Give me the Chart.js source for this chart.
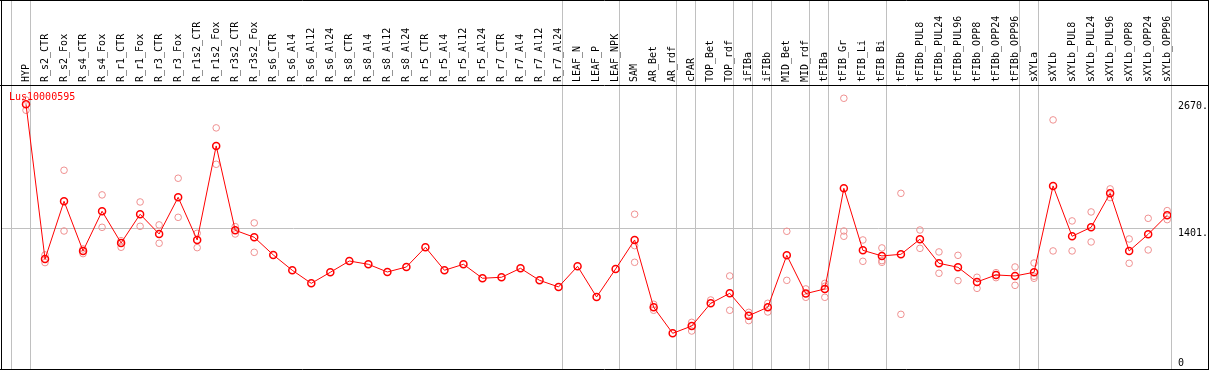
<!DOCTYPE html>
<html>
<head>
<meta charset="utf-8">
<script src="https://cdn.jsdelivr.net/npm/chart.js@4.4.0/dist/chart.umd.min.js"></script>
<style>
  body { margin: 0; background: #fff; }
</style>
</head>
<body>
<canvas id="exprChart" width="1209" height="370"></canvas>
<script>
const categories = ['HYP', 'R_s2_CTR', 'R_s2_Fox', 'R_s4_CTR', 'R_s4_Fox', 'R_r1_CTR', 'R_r1_Fox', 'R_r3_CTR', 'R_r3_Fox',
  'R_r1s2_CTR', 'R_r1s2_Fox', 'R_r3s2_CTR', 'R_r3s2_Fox', 'R_s6_CTR', 'R_s6_Al4', 'R_s6_Al12', 'R_s6_Al24',
  'R_s8_CTR', 'R_s8_Al4', 'R_s8_Al12', 'R_s8_Al24', 'R_r5_CTR', 'R_r5_Al4', 'R_r5_Al12', 'R_r5_Al24',
  'R_r7_CTR', 'R_r7_Al4', 'R_r7_Al12', 'R_r7_Al24', 'LEAF_N', 'LEAF_P', 'LEAF_NPK', 'SAM', 'AR_Bet', 'AR_rdf',
  'cPAR', 'TOP_Bet', 'TOP_rdf', 'iFIBa', 'iFIBb', 'MID_Bet', 'MID_rdf', 'tFIBa', 'tFIB_Gr', 'tFIB_Li', 'tFIB_Bi',
  'tFIBb', 'tFIBb_PUL8', 'tFIBb_PUL24', 'tFIBb_PUL96', 'tFIBb_OPP8', 'tFIBb_OPP24', 'tFIBb_OPP96',
  'sXYLa', 'sXYLb', 'sXYLb_PUL8', 'sXYLb_PUL24', 'sXYLb_PUL96', 'sXYLb_OPP8', 'sXYLb_OPP24', 'sXYLb_OPP96'];

// mean expression per sample
const means = [2645, 1093, 1672, 1174, 1572, 1254, 1542, 1344, 1712, 1284, 2227, 1381, 1311, 1134, 980, 849,
  960, 1073, 1040, 963, 1013, 1211, 980, 1040, 900, 910, 1000, 879, 813, 1020, 712, 993, 1284, 609, 348, 421,
  649, 749, 525, 609, 1130, 746, 793, 1802, 1180, 1124, 1140, 1291, 1050, 1010, 863, 933, 923, 960, 1826,
  1321, 1411, 1752, 1174, 1341, 1532];

// replicates (null = not shown)
const rep1 = [2688, 1134, 1983, 1194, 1736, 1277, 1665, 1435, 1903, 1351, 2408, 1418, 1455,
  null, null, null, null, null, null, null, null, null, null, null, null, null, null, null, null, null, null, null,
  1542, 639, null, 458, 682, 923, 558, 649, 1371, 793, 849, 2705, 1284, 1204, 1752, 1384, 1164, 1130,
  910, 956, 1013, 1053, 2488, 1475, 1565, 1796, 1294, 1501, 1578];
const rep2 = [2585, 1057, 1374, 1147, 1411, 1211, 1421, 1251, 1511, 1207, 2043, 1344, 1160,
  null, null, null, null, null, null, null, null, null, null, null, null, null, null, null, null, null, null, null,
  1060, 579, null, 371, null, 579, 475, 562, 879, 709, 709, 1374, 1070, 1060, 538, 1200, 950, 876,
  799, 906, 829, 900, 1174, 1174, 1264, 1709, 1050, 1184, 1488];
const rep3 = [null, null, null, null, null, null, null, null, null, null, null, null, null,
  null, null, null, null, null, null, null, null, null, null, null, null, null, null, null, null, null, null, null,
  1227, null, null, null, null, null, null, null, null, null, 820, 1321, null, 1077, null, null, null, null,
  null, null, null, 920, null, null, null, null, null, null, null];

const yTicks = [0, 1401, 2670];
// last sample index of each group, a grey line follows it
const groupEnds = [-1, 0, 28, 31, 34, 35, 37, 38, 39, 41, 42, 45, 52, 53, 60];
const geneName = 'Lus10000595';

function toPoints(arr) {
    let pts = [];
    for (let i = 0; i < arr.length; i++) {
        if (arr[i] !== null) pts.push({ x: i, y: arr[i] });
    }
    return pts;
}

function noPadding(axis) {
    axis.paddingLeft = 0;
    axis.paddingRight = 0;
    axis.paddingTop = 0;
    axis.paddingBottom = 0;
}

const monoFont = { family: 'DejaVu Sans Mono', size: 10 };

const framePlugin = {
    id: 'frame',
    beforeDatasetsDraw(chart) {
        const ctx = chart.ctx;
        const xs = chart.scales.x;
        ctx.save();
        ctx.strokeStyle = '#c0c0c0';
        ctx.lineWidth = 1;
        groupEnds.forEach(function (g) {
            let px = Math.round(xs.getPixelForValue(g + 0.19)) + 0.5;
            ctx.beginPath();
            ctx.moveTo(px, 0);
            ctx.lineTo(px, 369);
            ctx.stroke();
        });
        ctx.restore();
    },
    afterDraw(chart) {
        const ctx = chart.ctx;
        const w = chart.width;
        const ys = chart.scales.y;
        ctx.save();
        ctx.strokeStyle = '#000';
        ctx.lineWidth = 1;
        ctx.beginPath();
        ctx.moveTo(0, 0.5); ctx.lineTo(w, 0.5);
        ctx.moveTo(0, 85.5); ctx.lineTo(w, 85.5);
        ctx.moveTo(0, 369.5); ctx.lineTo(w, 369.5);
        ctx.moveTo(1.5, 0); ctx.lineTo(1.5, 370);
        ctx.moveTo(w - 0.5, 0); ctx.lineTo(w - 0.5, 370);
        ctx.stroke();

        // y labels sit just under their value, the bottom one above it
        ctx.fillStyle = '#000';
        ctx.font = '10px "DejaVu Sans Mono"';
        ctx.textAlign = 'left';
        yTicks.forEach(function (v) {
            let py = ys.getPixelForValue(v);
            if (v === 0) {
                ctx.textBaseline = 'bottom';
                ctx.fillText('0', ys.left + 7, py);
            } else {
                ctx.textBaseline = 'top';
                ctx.fillText(v + '.', ys.left + 7, py);
            }
        });

        ctx.fillStyle = '#ff0000';
        ctx.textBaseline = 'middle';
        ctx.fillText(geneName, 9, 97);
        ctx.restore();
    }
};

new Chart(document.getElementById('exprChart'), {
    type: 'line',
    data: {
        datasets: [{
            label: 'mean',
            data: toPoints(means),
            borderColor: '#ff0000',
            borderWidth: 1,
            tension: 0,
            pointRadius: 3.5,
            pointBorderWidth: 1.5,
            pointBorderColor: '#ff0000',
            pointBackgroundColor: 'rgba(0,0,0,0)'
        }, {
            label: 'replicates',
            data: toPoints(rep1).concat(toPoints(rep2), toPoints(rep3)),
            showLine: false,
            pointRadius: 3.3,
            pointBorderWidth: 1,
            pointBorderColor: '#ef9090',
            pointBackgroundColor: 'rgba(0,0,0,0)'
        }]
    },
    options: {
        responsive: false,
        animation: false,
        devicePixelRatio: 1,
        layout: { autoPadding: false, padding: { left: 1, right: 0, top: 0, bottom: 1 } },
        plugins: {
            legend: { display: false },
            tooltip: { enabled: false }
        },
        scales: {
            x: {
                type: 'linear',
                position: 'top',
                bounds: 'data',
                min: -1.314,
                max: 60.2,
                afterBuildTicks: function (axis) {
                    axis.ticks = categories.map(function (c, i) { return { value: i }; });
                },
                afterFit: function (axis) {
                    axis.height = 85;
                    noPadding(axis);
                },
                grid: { display: false, drawTicks: false },
                border: { display: false },
                ticks: {
                    autoSkip: false,
                    minRotation: 90,
                    maxRotation: 90,
                    padding: 3,
                    labelOffset: 12,
                    color: '#000',
                    font: monoFont,
                    callback: function (v) { return categories[v]; }
                }
            },
            y: {
                type: 'linear',
                position: 'right',
                bounds: 'data',
                min: -10,
                max: 2838,
                afterBuildTicks: function (axis) {
                    axis.ticks = yTicks.map(function (v) { return { value: v }; });
                },
                afterFit: function (axis) {
                    axis.width = 38;
                    noPadding(axis);
                },
                grid: {
                    drawTicks: false,
                    color: function (c) {
                        return c.tick && c.tick.value === 1401 ? '#c0c0c0' : 'rgba(0,0,0,0)';
                    }
                },
                border: { display: false },
                ticks: { display: false }
            }
        }
    },
    plugins: [framePlugin]
});
</script>
</body>
</html>
